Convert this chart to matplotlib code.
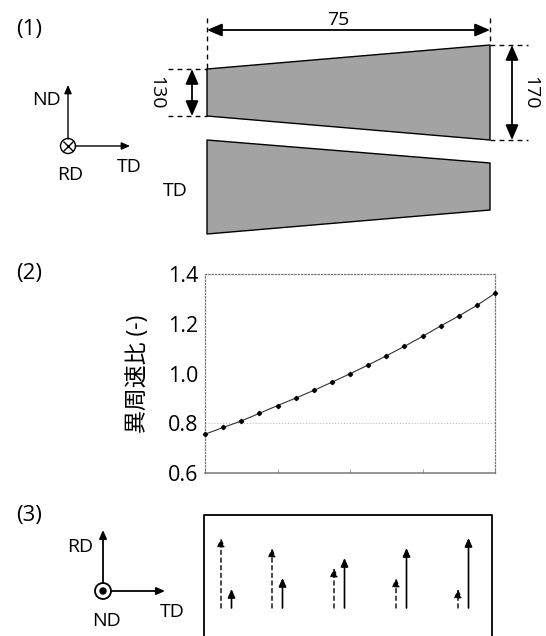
import matplotlib
matplotlib.use("Agg")
import matplotlib.pyplot as plt
from matplotlib.patches import Circle, Polygon

plt.rcParams["font.family"] = ["Open Sans", "Noto Sans CJK JP", "DejaVu Sans"]

# panel 2: speed ratio curve
stations = list(range(17))
speed_ratio = [0.756, 0.783, 0.809, 0.840, 0.871, 0.901, 0.932, 0.965, 0.999,
               1.034, 1.071, 1.109, 1.149, 1.191, 1.231, 1.274, 1.322]
ratio_ticks = [0.6, 0.8, 1.0, 1.2, 1.4]
station_ticks = [0, 4, 8, 12, 16]

# panel 3: arrow lengths in each pair (px)
pair_left = [221, 272, 334, 396, 458]
dashed_len = [70, 60, 40, 30, 19]
solid_len = [19, 30, 50, 60, 70]

# panel 1: roll outlines (px)
upper_roll = [(207, 69), (490, 45), (490, 140), (207, 116)]
lower_roll = [(207, 140), (490, 163), (490, 210), (207, 234)]

W, H = 546, 636


def arrow(ax, a, b, style="-|>,head_length=0.5,head_width=0.22", lw=1.0, ls="-", scale=10):
    ax.annotate("", xy=b, xytext=a,
                arrowprops=dict(arrowstyle=style, lw=lw, ls=ls, color="black",
                                mutation_scale=scale, shrinkA=0, shrinkB=0))


def dashes(ax, xs, ys):
    ax.plot(xs, ys, color="black", lw=1.0, ls=(0, (3.5, 3)))


fig = plt.figure(figsize=(W / 100, H / 100), dpi=100)
bg = fig.add_axes([0, 0, 1, 1])
bg.set_xlim(0, W)
bg.set_ylim(H, 0)
bg.axis("off")

for label, y in [("(1)", 29), ("(2)", 273), ("(3)", 515)]:
    bg.text(29, y, label, fontsize=16, ha="center", va="center")

# panel 1
for roll in (upper_roll, lower_roll):
    bg.add_patch(Polygon(roll, closed=True, facecolor="#a3a3a3", edgecolor="black", lw=1.0))
dashes(bg, [207, 207], [18, 69])
dashes(bg, [490, 490], [18, 45])
dashes(bg, [168, 207], [69, 69])
dashes(bg, [168, 207], [116, 116])
dashes(bg, [490, 528], [45, 45])
dashes(bg, [490, 528], [140, 140])
both = "<|-|>,head_length=0.7,head_width=0.3"
arrow(bg, (207, 30), (490, 30), both, 1.3, scale=13)
arrow(bg, (192, 69), (192, 116), both, 1.3, scale=13)
arrow(bg, (512, 45), (512, 140), both, 1.3, scale=13)
bg.text(338, 20, "75", fontsize=14, ha="center", va="center")
bg.text(156, 93, "130", fontsize=14, rotation=270, ha="center", va="center")
bg.text(530, 93, "170", fontsize=14, rotation=270, ha="center", va="center")
bg.text(175, 191, "TD", fontsize=14, ha="center", va="center")

arrow(bg, (68, 139), (68, 85))
arrow(bg, (75, 146), (130, 146))
bg.add_patch(Circle((68, 146), 7.5, facecolor="white", edgecolor="black", lw=1.0))
bg.plot([68], [146], marker="x", color="black", ms=7, mew=1.0)
bg.text(46, 100, "ND", fontsize=14, ha="center", va="center")
bg.text(129, 167, "TD", fontsize=14, ha="center", va="center")
bg.text(70, 175, "RD", fontsize=14, ha="center", va="center")

# panel 3
bg.plot([204, 204, 492, 492], [H, 515, 515, H], color="black", lw=1.3)
base = 608
for x, d, s in zip(pair_left, dashed_len, solid_len):
    arrow(bg, (x, base), (x, base - d), ls=(0, (3, 2.5)))
    arrow(bg, (x + 10.5, base), (x + 10.5, base - s), lw=1.2)

arrow(bg, (103, 583), (103, 530), lw=1.3)
arrow(bg, (111, 591), (165, 591), lw=1.3)
bg.add_patch(Circle((103, 591), 8, facecolor="white", edgecolor="black", lw=1.3))
bg.add_patch(Circle((103, 591), 3, facecolor="black", edgecolor="black"))
bg.text(80, 547, "RD", fontsize=14, ha="center", va="center")
bg.text(172, 612, "TD", fontsize=14, ha="center", va="center")
bg.text(106, 621, "ND", fontsize=14, ha="center", va="center")

# panel 2
ax = fig.add_axes([205 / W, 1 - 473 / H, 290 / W, 199 / H])
ax.patch.set_alpha(0)
ax.plot(stations, speed_ratio, color="#333333", lw=0.8, marker="D", ms=2.2,
        mfc="black", mec="black", clip_on=False, zorder=5)
ax.set_xlim(0, 16)
ax.set_ylim(0.6, 1.4)
ax.set_yticks(ratio_ticks)
ax.set_yticklabels([f"{v:.1f}" for v in ratio_ticks], fontsize=15.5)
ax.set_xticks(station_ticks)
ax.set_xticklabels([])
ax.tick_params(axis="y", length=0, pad=5)
ax.tick_params(axis="x", direction="in", length=3, width=0.7, color="#999999")
ax.axhline(0.8, color="#bbbbbb", lw=0.8, ls=":")
for side in ("top", "left", "right"):
    ax.spines[side].set(color="#777777", lw=0.9, ls=":")
ax.spines["bottom"].set(color="#777777", lw=1.1)
ax.set_ylabel("異周速比 (-)", fontsize=16.5, labelpad=13)

fig.savefig("out.png", dpi=100)
